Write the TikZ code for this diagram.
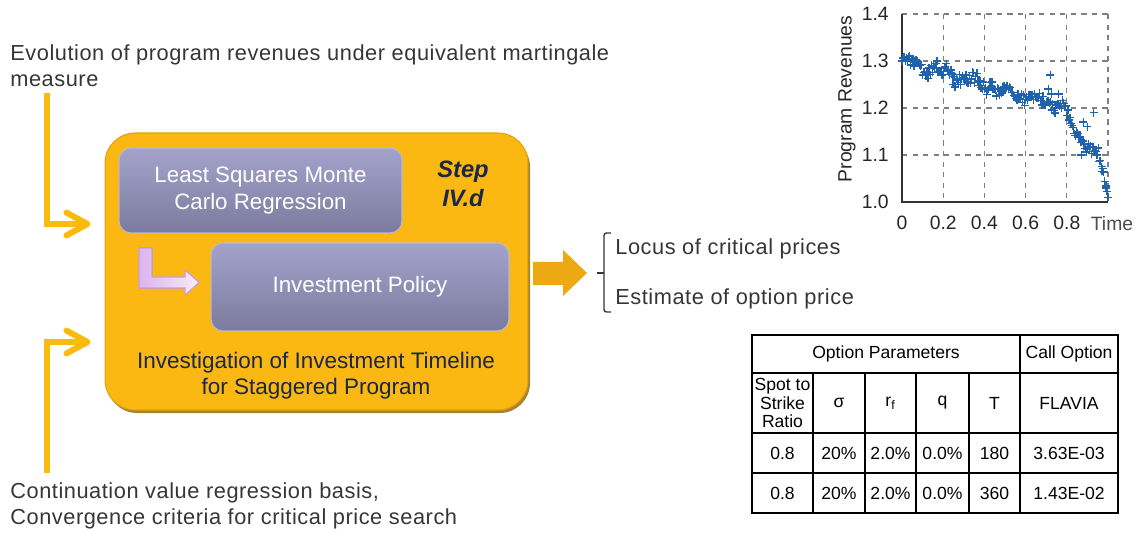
\documentclass[tikz,border=0pt]{standalone}
\usepackage{fontspec}
\setmainfont{Liberation Sans}
\newfontfamily\widesans{Liberation Sans}[LetterSpace=2.5]
\usetikzlibrary{arrows.meta,calc}

\definecolor{stageyellow}{HTML}{FBB813}
\definecolor{stageedge}{HTML}{E3A20C}
\definecolor{stageshade}{HTML}{A48431}
\definecolor{subtop}{HTML}{A3A2CB}
\definecolor{subbot}{HTML}{7C7B9E}
\definecolor{subedge}{HTML}{B9B8DA}
\definecolor{navytext}{HTML}{1A2847}
\definecolor{labelgray}{HTML}{363636}
\definecolor{feedyellow}{HTML}{FBBA0E}
\definecolor{outorange}{HTML}{EDA912}
\definecolor{pinkleft}{HTML}{DDB4EE}
\definecolor{pinkright}{HTML}{F7ECFB}
\definecolor{pinkedge}{HTML}{C79FDC}
\definecolor{revblue}{HTML}{1F62AE}

\begin{document}
\begin{tikzpicture}[x=0.02cm,y=-0.02cm,>=Latex,
  lbl/.style={font=\widesans\fontsize{12.4}{14.8}\selectfont,text=labelgray,inner sep=0,align=left},
  stage/.style={draw=stageedge,line width=0.6pt,fill=stageyellow,rounded corners=0.6cm},
  sub/.style={draw=subedge,line width=0.6pt,top color=subtop,bottom color=subbot,
    rounded corners=0.24cm,text=white,align=center,font=\fontsize{12.7}{15}\selectfont},
  navy/.style={text=navytext,align=center,inner sep=0,font=\fontsize{12.8}{15}\selectfont},
  steptxt/.style={navy,font=\fontsize{13.5}{16.5}\selectfont\bfseries\itshape},
  feed/.style={draw=feedyellow,line width=0.12cm,
    -{Straight Barb[length=12pt,width=13pt,line cap=round,line join=round]}},
  tick/.style={font=\fontsize{11}{13}\selectfont,text=black!85,inner sep=0},
  gridline/.style={dashed,gray,line width=0.6pt},
  axis/.style={black!80,line width=1pt},
  rev/.style={revblue,line width=0.8pt},
  tab/.style={black,line width=0.9pt},
  cell/.style={font=\fontsize{10}{10.5}\selectfont,inner sep=0,align=center}]
  \useasboundingbox (0,0) rectangle (1141,533);

  % inputs
  \node[lbl,anchor=north west] (evo) at (10,44)
    {Evolution of program revenues under equivalent martingale\\measure};
  \node[lbl,anchor=north west] (basis) at (10,482)
    {Continuation value regression basis,\\Convergence criteria for critical price search};

  % step box
  \fill[stageshade,rounded corners=0.6cm] (107,137) rectangle (530,413);
  \node[stage,minimum width=8.46cm,minimum height=5.54cm] (stage) at (316.5,271.5) {};
  \node[sub,minimum width=5.66cm,minimum height=1.7cm] (lsmc) at (260.5,190.5)
    {Least Squares Monte\\Carlo Regression};
  \node[sub,minimum width=5.96cm,minimum height=1.76cm] (policy) at (360,287)
    {Investment Policy};
  \node[steptxt] (step) at (463,184) {Step\\IV.d};
  \node[navy] (timeline) at (316,376)
    {Investigation of Investment Timeline\\for Staggered Program};
  \filldraw[draw=pinkedge,line width=0.6pt,left color=pinkleft,right color=pinkright]
    (139,248) -- (152,248) -- (152,277) -- (185,277) -- (185,270) -- (199,282.5)
    -- (185,295) -- (185,288) -- (139,288) -- cycle;

  \coordinate (evo-tail) at (47,93);
  \coordinate (basis-tail) at (47,473);
  \draw[feed] (evo-tail) |- ($(stage.west)+(-14,-47.5)$);
  \draw[feed] (basis-tail) |- ($(stage.west)+(-14,70.5)$);

  % outputs
  \fill[outorange] (533,262) -- (563,262) -- (563,250) -- (587,273) -- (563,296)
    -- (563,285) -- (533,285) -- cycle;
  \node[lbl,anchor=west] (locus) at (615,249) {Locus of critical prices};
  \node[lbl,anchor=west] (estimate) at (615,299) {Estimate of option price};
  \draw[labelgray,line width=0.8pt,rounded corners=0.05cm] (611,233) -| (604,312) -- (611,312);
  \draw[labelgray,line width=0.8pt] (604,273) -- (597,273);

  % revenue plot
  \foreach \gx in {0.2,0.4,0.6,0.8,1.0}
    \draw[gridline] ({902+206*\gx},14) -- ({902+206*\gx},202);
  \foreach \gy in {1.1,1.2,1.3,1.4}
    \draw[gridline] (902,{202-470*(\gy-1)}) -- (1108,{202-470*(\gy-1)});
  \draw[axis] (902,14) -- (902,202) -- (1108,202);
  \foreach \gy [count=\k] in {1.0,1.1,1.2,1.3,1.4}
    \node[tick,anchor=east] (ytick\k) at (889,{202-470*(\gy-1)}) {\gy};
  \foreach \gx [count=\k] in {0,0.2,0.4,0.6,0.8}
    \node[tick] (xtick\k) at ({902+206*\gx},223) {\gx};
  \node[tick,text=black!70] (timelbl) at (1112,224) {Time};
  \node[tick,rotate=90] (revlbl) at (847,99) {Program Revenues};
  \pgfmathsetseed{7}
  \foreach \i in {0,...,190}{
    \pgfmathsetmacro\tpos{\i/190}
    \pgfmathsetmacro\mval{(\tpos<0.78) ? (1.298-0.12*\tpos) : ((\tpos<0.85) ? (1.204-1.0*(\tpos-0.78)) : ((\tpos<0.95) ? (1.134-0.25*(\tpos-0.85)) : (1.109-2.18*(\tpos-0.95))))}
    \pgfmathsetmacro\vval{\mval+0.008*sin(\tpos*2300)+0.005*sin(\tpos*5100+40)+(\tpos<0.98)*0.013*rand}
    \pgfmathsetmacro\xp{902+206*\tpos}
    \pgfmathsetmacro\yp{202-470*(\vval-1)}
    \draw[rev] (\xp-4,\yp) -- (\xp+4,\yp) (\xp,\yp-4) -- (\xp,\yp+4);
  }
  \foreach \tpos/\vval in {0.72/1.27,0.71/1.24,0.725/1.23,0.76/1.23,0.88/1.17,0.90/1.16,
      0.93/1.19,0.87/1.10,0.9/1.115,0.17/1.30,0.97/1.065,0.99/1.03}{
    \pgfmathsetmacro\xp{902+206*\tpos}
    \pgfmathsetmacro\yp{202-470*(\vval-1)}
    \draw[rev] (\xp-4,\yp) -- (\xp+4,\yp) (\xp,\yp-4) -- (\xp,\yp+4);
  }

  % option table
  \draw[tab] (752,335) rectangle (1118,513);
  \foreach \ry in {373,433,473} \draw[tab] (752,\ry) -- (1118,\ry);
  \draw[tab] (1020,335) -- (1020,513);
  \foreach \cx in {813,865,916,969} \draw[tab] (\cx,373) -- (\cx,513);
  \node[cell] (optpar) at (886,354) {Option Parameters};
  \node[cell] (callopt) at (1069,354) {Call Option};
  \foreach \val/\cx [count=\j] in {Spot to\\Strike\\Ratio/782.5,σ/839,
      r\textsubscript{f}/890.5,q/942.5,T/994.5,FLAVIA/1069}
    \node[cell] (hd\j) at (\cx,403) {\val};
  \foreach \val/\cx [count=\j] in {0.8/782.5,20\%/839,2.0\%/890.5,0.0\%/942.5,180/994.5,3.63E-03/1069}
    \node[cell] (ra\j) at (\cx,453) {\val};
  \foreach \val/\cx [count=\j] in {0.8/782.5,20\%/839,2.0\%/890.5,0.0\%/942.5,360/994.5,1.43E-02/1069}
    \node[cell] (rb\j) at (\cx,493) {\val};
\end{tikzpicture}
\end{document}
